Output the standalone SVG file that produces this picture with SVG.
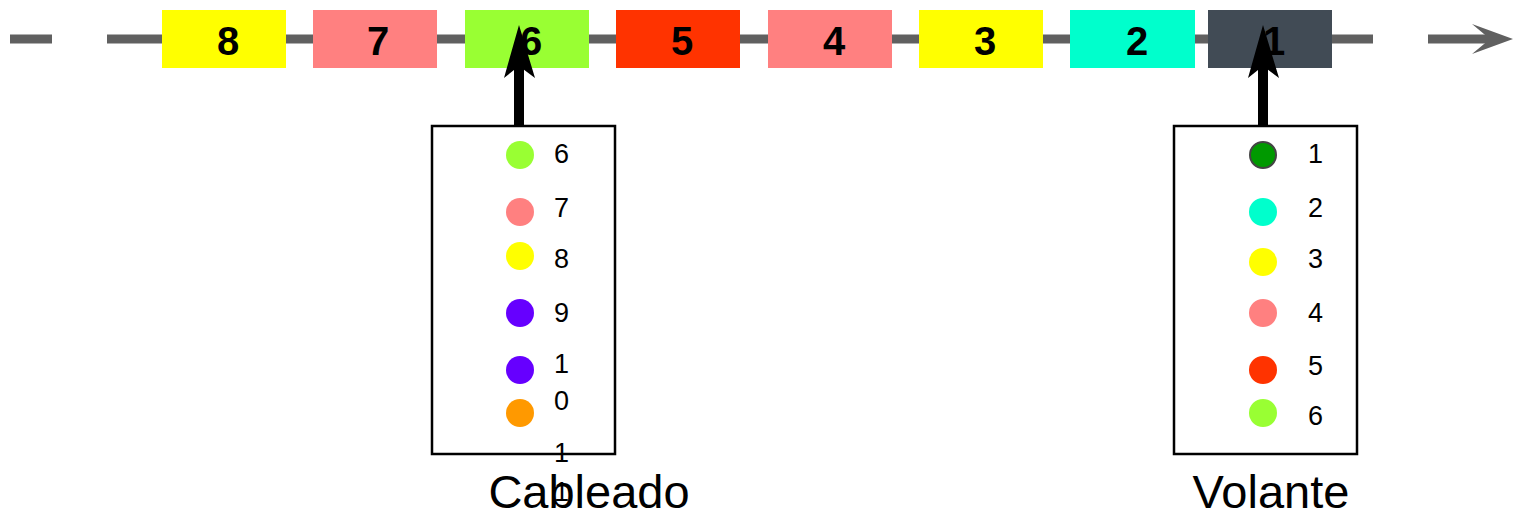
<svg xmlns="http://www.w3.org/2000/svg" width="1514" height="512" viewBox="0 0 1514 512">
<style>
.ln{stroke:#606060;stroke-width:9;fill:none}
.bx{stroke:none}
.bt{font-family:"Liberation Sans",Arial,sans-serif;font-weight:bold;font-size:40px;text-anchor:middle;fill:#000}
.lg{font-family:"Liberation Sans",Arial,sans-serif;font-size:27px;fill:#000}
.cap{font-family:"Liberation Sans",Arial,sans-serif;font-size:47px;fill:#000;text-anchor:middle}
.frame{fill:#fff;stroke:#000;stroke-width:2.5}
.ptr{stroke:#000;stroke-width:10;fill:none}
</style>
<g id="connectors">
<line class="ln" x1="10" y1="39" x2="52" y2="39"/>
<line class="ln" x1="107" y1="39" x2="1373" y2="39"/>
<line class="ln" x1="1428" y1="39" x2="1492" y2="39"/>
<polygon points="1513,39 1472,24 1490,39 1472,54" fill="#606060"/>
</g>
<g id="b8"><rect class="bx" x="162" y="10" width="124" height="58" fill="#FFFF00"/><text class="bt" x="228" y="55">8</text></g>
<g id="b7"><rect class="bx" x="313" y="10" width="124" height="58" fill="#FF8080"/><text class="bt" x="378" y="55">7</text></g>
<g id="b6"><rect class="bx" x="465" y="10" width="124" height="58" fill="#99FF33"/><text class="bt" x="531" y="55">6</text></g>
<g id="b5"><rect class="bx" x="616" y="10" width="124" height="58" fill="#FF3300"/><text class="bt" x="682" y="55">5</text></g>
<g id="b4"><rect class="bx" x="768" y="10" width="124" height="58" fill="#FF8080"/><text class="bt" x="834" y="55">4</text></g>
<g id="b3"><rect class="bx" x="919" y="10" width="124" height="58" fill="#FFFF00"/><text class="bt" x="985" y="55">3</text></g>
<g id="b2"><rect class="bx" x="1070" y="10" width="125" height="58" fill="#00FFCC"/><text class="bt" x="1137" y="55">2</text></g>
<g id="b1"><rect class="bx" x="1208" y="10" width="124" height="58" fill="#414B55"/><text class="bt" x="1274" y="55">1</text></g>
<g id="cableado">
<rect class="frame" x="432" y="126" width="183" height="328"/>
<circle cx="520" cy="155" r="14" fill="#99FF33"/>
<circle cx="520" cy="212" r="14" fill="#FF8080"/>
<circle cx="520" cy="256" r="14" fill="#FFFF00"/>
<circle cx="520" cy="313" r="14" fill="#6600FF"/>
<circle cx="520" cy="370" r="14" fill="#6600FF"/>
<circle cx="520" cy="413" r="14" fill="#FF9900"/>
<text class="lg" x="554" y="163">6</text>
<text class="lg" x="554" y="217">7</text>
<text class="lg" x="554" y="268">8</text>
<text class="lg" x="554" y="322">9</text>
<text class="lg" x="554" y="373">1</text>
<text class="lg" x="554" y="410">0</text>
<text class="lg" x="554" y="462">1</text>
<text class="lg" x="554" y="501">1</text>
<text class="cap" x="589" y="508">Cableado</text>
<line class="ptr" x1="519" y1="126" x2="519" y2="62"/>
<polygon points="519,25 535,78 519,66 504,78" fill="#000"/>
</g>
<g id="volante">
<rect class="frame" x="1174" y="126" width="183" height="328"/>
<circle cx="1263" cy="155" r="13" fill="#009900" stroke="#444" stroke-width="2"/>
<circle cx="1263" cy="212" r="14" fill="#00FFCC"/>
<circle cx="1263" cy="262" r="14" fill="#FFFF00"/>
<circle cx="1263" cy="313" r="14" fill="#FF8080"/>
<circle cx="1263" cy="370" r="14" fill="#FF3300"/>
<circle cx="1263" cy="413" r="14" fill="#99FF33"/>
<text class="lg" x="1308" y="163">1</text>
<text class="lg" x="1308" y="217">2</text>
<text class="lg" x="1308" y="268">3</text>
<text class="lg" x="1308" y="322">4</text>
<text class="lg" x="1308" y="375">5</text>
<text class="lg" x="1308" y="425">6</text>
<text class="cap" x="1271" y="508">Volante</text>
<line class="ptr" x1="1263" y1="126" x2="1263" y2="62"/>
<polygon points="1263,25 1279,78 1263,66 1248,78" fill="#000"/>
</g>
</svg>
